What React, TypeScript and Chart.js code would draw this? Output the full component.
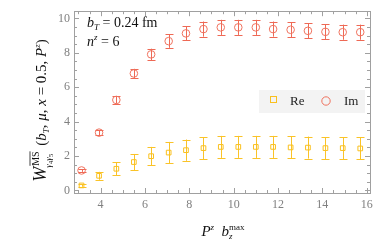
import React, { useEffect, useRef } from "react";
import { Chart, registerables } from "chart.js";

Chart.register(...registerables);

const pz = [3.14, 3.93, 4.71, 5.5, 6.28, 7.07, 7.85, 8.64, 9.42, 10.21, 11.0, 11.78, 12.57, 13.35, 14.14, 14.92, 15.71];
const reVals = [0.29, 0.85, 1.26, 1.65, 1.99, 2.2, 2.34, 2.46, 2.53, 2.53, 2.53, 2.53, 2.5, 2.49, 2.46, 2.46, 2.44];
const reErr = [0.08, 0.23, 0.38, 0.47, 0.54, 0.62, 0.62, 0.64, 0.64, 0.64, 0.64, 0.64, 0.64, 0.64, 0.64, 0.64, 0.64];
const imVals = [1.16, 3.36, 5.26, 6.8, 7.91, 8.68, 9.13, 9.38, 9.48, 9.48, 9.48, 9.38, 9.34, 9.28, 9.22, 9.2, 9.2];
const imErr = [0.08, 0.14, 0.22, 0.27, 0.33, 0.39, 0.41, 0.44, 0.44, 0.44, 0.44, 0.44, 0.44, 0.44, 0.44, 0.44, 0.44];
const xTicks = [4, 6, 8, 10, 12, 14, 16];
const yTicks = [0, 2, 4, 6, 8, 10];

const RE_COLOR = "rgb(250,192,30)";
const IM_COLOR = "rgb(240,115,95)";
const RE_BAR = "rgb(250,195,40)";
const IM_BAR = "rgb(238,105,85)";
const SERIF = "'Liberation Serif', 'DejaVu Serif', serif";

type Part = { t: string; f: string; dy?: number; over?: boolean };

function drawRich(ctx: CanvasRenderingContext2D, parts: Part[], x: number, y: number) {
  let cx = x;
  for (const p of parts) {
    ctx.font = p.f;
    const w = ctx.measureText(p.t).width;
    ctx.fillText(p.t, cx, y + (p.dy || 0));
    if (p.over) {
      ctx.beginPath();
      ctx.lineWidth = 0.8;
      ctx.moveTo(cx, y + (p.dy || 0) - 8.5);
      ctx.lineTo(cx + w, y + (p.dy || 0) - 8.5);
      ctx.stroke();
    }
    cx += w;
  }
  return cx - x;
}

function measureRich(ctx: CanvasRenderingContext2D, parts: Part[]) {
  let w = 0;
  for (const p of parts) {
    ctx.font = p.f;
    w += ctx.measureText(p.t).width;
  }
  return w;
}

const decorPlugin = {
  id: "decor",
  beforeDatasetsDraw(chart: any) {
    const { ctx, scales } = chart;
    const xs = scales.x;
    const ys = scales.y;
    ctx.save();
    const bars = (vals: number[], errs: number[], color: string) => {
      ctx.strokeStyle = color;
      ctx.lineWidth = 1;
      for (let i = 0; i < pz.length; i++) {
        const px = Math.round(xs.getPixelForValue(pz[i])) + 0.5;
        const y1 = ys.getPixelForValue(vals[i] - errs[i]);
        const y2 = ys.getPixelForValue(vals[i] + errs[i]);
        ctx.beginPath();
        ctx.moveTo(px, y1);
        ctx.lineTo(px, y2);
        ctx.moveTo(px - 4, Math.round(y1) + 0.5);
        ctx.lineTo(px + 4, Math.round(y1) + 0.5);
        ctx.moveTo(px - 4, Math.round(y2) + 0.5);
        ctx.lineTo(px + 4, Math.round(y2) + 0.5);
        ctx.stroke();
      }
    };
    bars(reVals, reErr, RE_BAR);
    bars(imVals, imErr, IM_BAR);
    ctx.restore();
  },
  afterDatasetsDraw(chart: any) {
    const { ctx, chartArea: a, scales } = chart;
    const xs = scales.x;
    const ys = scales.y;
    ctx.save();
    ctx.strokeStyle = "#a0a0a0";
    ctx.lineWidth = 1;
    ctx.strokeRect(Math.round(a.left) + 0.5, Math.round(a.top) + 0.5, Math.round(a.right - a.left), Math.round(a.bottom - a.top));
    ctx.beginPath();
    for (let v = 3; v <= 16.01; v += 0.5) {
      const px = Math.round(xs.getPixelForValue(v)) + 0.5;
      const major = Math.abs(v / 2 - Math.round(v / 2)) < 1e-6;
      const len = major ? 5 : 3;
      ctx.moveTo(px, a.bottom);
      ctx.lineTo(px, a.bottom - len);
      ctx.moveTo(px, a.top);
      ctx.lineTo(px, a.top + len);
    }
    for (let v = 0; v <= 10.01; v += 0.5) {
      const py = Math.round(ys.getPixelForValue(v)) + 0.5;
      const major = Math.abs(v / 2 - Math.round(v / 2)) < 1e-6;
      const len = major ? 5 : 3;
      ctx.moveTo(a.left, py);
      ctx.lineTo(a.left + len, py);
      ctx.moveTo(a.right, py);
      ctx.lineTo(a.right - len, py);
    }
    ctx.stroke();

    ctx.fillStyle = "#111";
    ctx.strokeStyle = "#111";
    ctx.textBaseline = "alphabetic";
    ctx.textAlign = "left";
    const it13 = `italic 14px ${SERIF}`;
    const rm13 = `14px ${SERIF}`;
    const sub9 = `italic 9px ${SERIF}`;
    drawRich(ctx, [
      { t: "b", f: it13 },
      { t: "T", f: sub9, dy: 3 },
      { t: " = 0.24 fm", f: rm13 },
    ], 87, 27);
    drawRich(ctx, [
      { t: "n", f: it13 },
      { t: "z", f: sub9, dy: -6 },
      { t: " = 6", f: rm13 },
    ], 87, 46);

    // x title
    const xParts: Part[] = [
      { t: "P", f: `italic 15px ${SERIF}` },
      { t: "z", f: `italic 9px ${SERIF}`, dy: -6 },
      { t: "  b", f: `italic 15px ${SERIF}` },
      { t: "max", f: `9px ${SERIF}`, dy: -6 },
    ];
    const xw = measureRich(ctx, xParts);
    const xStart = (a.left + a.right) / 2 - xw / 2 + 1;
    drawRich(ctx, xParts, xStart, 236);
    const wPre = measureRich(ctx, xParts.slice(0, 3));
    ctx.font = `italic 9px ${SERIF}`;
    ctx.fillText("z", xStart + wPre, 239);

    // y title
    ctx.save();
    ctx.translate(46, 110.5);
    ctx.rotate(-Math.PI / 2);
    const big = `italic 18px ${SERIF}`;
    const rmBig = `15px ${SERIF}`;
    const itBig = `italic 15px ${SERIF}`;
    const smIt = `italic 9px ${SERIF}`;
    const yParts: Part[] = [
      { t: "(", f: rmBig },
      { t: "b", f: itBig },
      { t: "T", f: smIt, dy: 3 },
      { t: ", ", f: rmBig },
      { t: "μ", f: itBig },
      { t: ", ", f: rmBig },
      { t: "x", f: itBig },
      { t: " = 0.5, ", f: rmBig },
      { t: "P", f: itBig },
      { t: "z", f: smIt, dy: -6 },
      { t: ")", f: rmBig },
    ];
    ctx.font = big;
    const wW = ctx.measureText("W").width;
    const extra = 21;
    const yw = wW + extra + measureRich(ctx, yParts);
    const y0 = -yw / 2;
    drawRich(ctx, [{ t: "W", f: big }], y0, 0);
    drawRich(ctx, [{ t: "MS", f: `10px ${SERIF}`, over: true }], y0 + wW + 1, -7.5);
    drawRich(ctx, [
      { t: "γ", f: smIt },
      { t: "4", f: `7px ${SERIF}`, dy: 2 },
      { t: "γ", f: smIt },
      { t: "5", f: `7px ${SERIF}`, dy: 2 },
    ], y0 + wW - 1, 4.5);
    drawRich(ctx, yParts, y0 + wW + extra, 0);
    ctx.restore();

    // legend
    ctx.fillStyle = "rgb(243,243,243)";
    ctx.fillRect(259, 90, 106, 23);
    ctx.strokeStyle = RE_COLOR;
    ctx.lineWidth = 1;
    ctx.strokeRect(270.5, 96.5, 6, 6);
    ctx.strokeStyle = IM_COLOR;
    ctx.beginPath();
    ctx.arc(326, 101, 4.2, 0, Math.PI * 2);
    ctx.stroke();
    ctx.fillStyle = "#222";
    ctx.font = `13px ${SERIF}`;
    ctx.fillText("Re", 290, 105);
    ctx.fillText("Im", 344, 105);
    ctx.restore();
  },
};

export default function App() {
  const ref = useRef<HTMLCanvasElement | null>(null);
  useEffect(() => {
    if (!ref.current) return;
    const chart = new Chart(ref.current, {
      type: "scatter",
      data: {
        datasets: [
          {
            label: "Re",
            data: pz.map((x, i) => ({ x, y: reVals[i] })),
            pointStyle: "rect",
            pointRadius: 3.3,
            borderColor: RE_COLOR,
            backgroundColor: "rgba(0,0,0,0)",
            borderWidth: 1,
          },
          {
            label: "Im",
            data: pz.map((x, i) => ({ x, y: imVals[i] })),
            pointStyle: "circle",
            pointRadius: 3.8,
            borderColor: IM_COLOR,
            backgroundColor: "rgba(0,0,0,0)",
            borderWidth: 1,
          },
        ],
      },
      options: {
        animation: false,
        responsive: false,
        maintainAspectRatio: false,
        layout: { padding: { top: 10, right: 12, left: 0, bottom: 0 } },
        plugins: { legend: { display: false }, tooltip: { enabled: false } },
        scales: {
          x: {
            type: "linear",
            min: 2.8,
            max: 16.15,
            grid: { display: false, drawTicks: false, tickLength: 0 },
            border: { display: false },
            afterBuildTicks: (s: any) => {
              s.ticks = xTicks.map((v) => ({ value: v }));
            },
            afterFit: (s: any) => {
              s.height = 50;
            },
            ticks: { color: "#808080", font: { family: SERIF, size: 12 }, padding: 5, maxRotation: 0 },
          },
          y: {
            type: "linear",
            min: -0.15,
            max: 10.42,
            grid: { display: false, drawTicks: false, tickLength: 0 },
            border: { display: false },
            afterBuildTicks: (s: any) => {
              s.ticks = yTicks.map((v) => ({ value: v }));
            },
            afterFit: (s: any) => {
              s.width = 74;
            },
            ticks: { color: "#808080", font: { family: SERIF, size: 12 }, padding: 4 },
          },
        },
      },
      plugins: [decorPlugin],
    });
    return () => chart.destroy();
  }, []);
  return (
    <div style={{ position: "absolute", left: 0, top: 0, width: 382, height: 243, background: "#fff" }}>
      <canvas ref={ref} width={382} height={243} style={{ width: 382, height: 243 }} />
    </div>
  );
}
